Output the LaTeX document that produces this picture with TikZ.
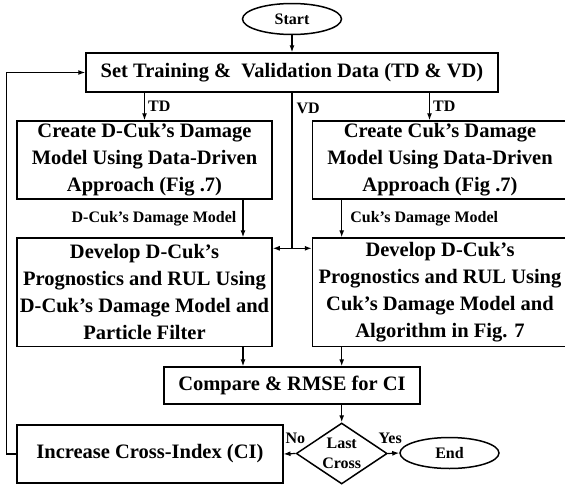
\documentclass[tikz,border=0pt]{standalone}
\usepackage{fontspec}
\setmainfont{Liberation Serif}
\usetikzlibrary{arrows.meta,shapes.geometric}
\tikzset{
  box/.style={draw, line width=1.5pt, align=center, inner sep=0.5pt, font=\bfseries\fontsize{20.5}{27}\selectfont},
  term/.style={draw, ellipse, line width=1.5pt, inner sep=0pt, minimum width=99pt, minimum height=31pt, font=\bfseries\fontsize{16}{19}\selectfont},
  test/.style={draw, diamond, aspect=1.5, line width=1.5pt, inner sep=0pt, minimum width=91pt, minimum height=61pt, align=center, font=\bfseries\fontsize{16}{20}\selectfont},
  wire/.style={line width=1.2pt},
  link/.style={wire, -{Latex[length=7pt,width=5pt]}},
  lab/.style={font=\bfseries\fontsize{16}{19}\selectfont, inner sep=0pt},
}
\begin{document}
\begin{tikzpicture}[x=1pt,y=-1pt]
  \path[use as bounding box, clip] (0,0) rectangle (565,485);
  % columns of the arrows
  \coordinate (xl) at (243,0);
  \coordinate (xr) at (341.7,0);
  \coordinate (tdr) at (429.5,0);
  \coordinate (vd) at (292,248.3);
  \node[term] (start) at (292,19) {Start};
  \node[box, minimum width=412pt, minimum height=39pt] (set) at (292,72.5) {Set Training \& \ Validation Data (TD \& VD)};
  \node[box, minimum width=255pt, minimum height=78pt] (cl) at (144.5,160) {Create D-Cuk’s Damage\\Model Using Data-Driven\\Approach (Fig .7)};
  \node[box, minimum width=255pt, minimum height=78pt] (cr) at (440,160) {Create Cuk’s Damage\\Model Using Data-Driven\\Approach (Fig .7)};
  \node[box, minimum width=255pt, minimum height=108.5pt] (dl) at (144.5,292.3) {Develop D-Cuk’s\\Prognostics and RUL Using\\D-Cuk’s Damage Model and\\Particle Filter};
  \node[box, minimum width=255pt, minimum height=108.5pt] (dr) at (440,292.3) {Develop D-Cuk’s\\Prognostics and RUL Using\\Cuk’s Damage Model and\\Algorithm in Fig. 7};
  \node[box, minimum width=256pt, minimum height=37pt] (cmp) at (292,385.5) {Compare \& RMSE for CI};
  \node[test] (last) at (341.7,453.5) {Last\\Cross};
  \node[box, minimum width=265.7pt, minimum height=58pt] (inc) at (149.9,454) {Increase Cross-Index (CI)};
  \node[term] (end) at (449.5,453) {End};
  \draw[link] (start) -- (set);
  \draw[link] (set.south -| cl) -- (cl) node[lab, midway, right=3pt] {TD};
  \draw[link] (set.south -| tdr) -- (cr.north -| tdr) node[lab, midway, right=3pt] {TD};
  \draw[wire] (set.south) -- (vd) node[lab, pos=0.1, right=4pt] {VD};
  \draw[link] (vd) -- (vd -| dl.east);
  \draw[link] (vd) -- (vd -| dr.west);
  \draw[link] (cl.south -| xl) -- (dl.north -| xl) node[lab, midway, left=6pt] {D-Cuk’s Damage Model};
  \draw[link] (cr.south -| xr) -- (dr.north -| xr) node[lab, midway, right=8pt] {Cuk’s Damage Model};
  \draw[link] (dl.south -| xl) -- (cmp.north -| xl);
  \draw[link] (dr.south -| xr) -- (cmp.north -| xr);
  \draw[link] (cmp.south -| last) -- (last);
  \draw[link] (last.west) -- (inc.east) node[lab, pos=0, above=9pt] {No};
  \draw[link] (last.east) -- (end.west) node[lab, pos=0.2, above=9pt] {Yes};
  \draw[link] (inc.west) -- ++(-9.5,0) |- (set.west); % loop back
\end{tikzpicture}
\end{document}
